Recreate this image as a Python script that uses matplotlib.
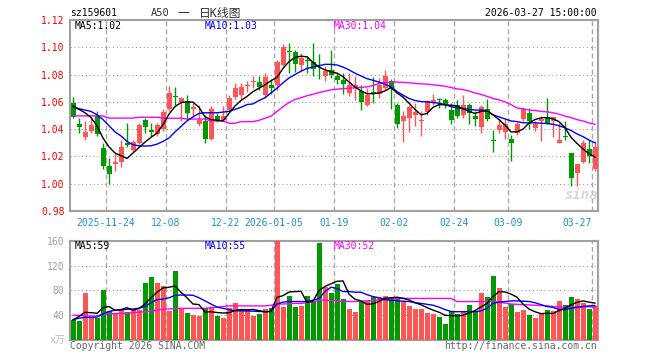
# -*- coding: utf-8 -*-
# Gráfico diario (velas) A50 sz159601 con medias móviles y volumen.

# %%Importación de librerías.
import numpy as np
import matplotlib.pyplot as plt

plt.rcParams['font.family'] = ['DejaVu Sans Mono', 'Noto Sans CJK SC']


# %%Datos.
fechas_idx = [6, 16, 26, 34, 44, 54, 64, 73, 87]
fechas_txt = ['2025-11-24', '12-08', '12-22', '2026-01-05', '01-19',
              '02-02', '02-24', '03-09', '03-27']

apertura = [1.0590, 1.0437, 1.0346, 1.0383, 1.0494, 1.0259, 1.0128, 1.0146, 1.0160, 1.0300,
            1.0250, 1.0300, 1.0467, 1.0395, 1.0363, 1.0400, 1.0551, 1.0637, 1.0600, 1.0605,
            1.0550, 1.0435, 1.0458, 1.0331, 1.0496, 1.0467, 1.0540, 1.0638, 1.0650, 1.0715,
            1.0749, 1.0745, 1.0650, 1.0726, 1.0720, 1.0870, 1.0968, 1.0966, 1.0868, 1.0906,
            1.0893, 1.0812, 1.0788, 1.0837, 1.0787, 1.0763, 1.0666, 1.0702, 1.0681, 1.0580,
            1.0671, 1.0654, 1.0702, 1.0751, 1.0580, 1.0459, 1.0483, 1.0502, 1.0461, 1.0524,
            1.0600, 1.0618, 1.0617, 1.0537, 1.0580, 1.0503, 1.0580, 1.0496, 1.0418, 1.0544,
            1.0316, 1.0394, 1.0379, 1.0331, 1.0370, 1.0471, 1.0520, 1.0410, 1.0459, 1.0488,
            1.0459, 1.0300, 1.0346, 1.0227, 1.0080, 1.0161, 1.0251, 1.0110]
cierre = [1.0490, 1.0415, 1.0380, 1.0432, 1.0363, 1.0131, 1.0072, 1.0158, 1.0269, 1.0285,
          1.0305, 1.0432, 1.0413, 1.0380, 1.0432, 1.0525, 1.0662, 1.0633, 1.0627, 1.0520,
          1.0560, 1.0467, 1.0331, 1.0548, 1.0461, 1.0496, 1.0627, 1.0699, 1.0712, 1.0718,
          1.0753, 1.0708, 1.0780, 1.0705, 1.0890, 1.1000, 1.0964, 1.0878, 1.0923, 1.0902,
          1.0842, 1.0808, 1.0824, 1.0795, 1.0762, 1.0732, 1.0727, 1.0727, 1.0598, 1.0649,
          1.0659, 1.0727, 1.0793, 1.0702, 1.0441, 1.0495, 1.0563, 1.0524, 1.0465, 1.0605,
          1.0617, 1.0615, 1.0581, 1.0467, 1.0496, 1.0580, 1.0520, 1.0476, 1.0564, 1.0472,
          1.0312, 1.0428, 1.0435, 1.0302, 1.0440, 1.0549, 1.0463, 1.0439, 1.0476, 1.0439,
          1.0488, 1.0324, 1.0342, 1.0044, 1.0141, 1.0300, 1.0202, 1.0270]
maximo = [1.0635, 1.0480, 1.0462, 1.0489, 1.0536, 1.0296, 1.0190, 1.0222, 1.0321, 1.0442,
          1.0320, 1.0442, 1.0480, 1.0448, 1.0448, 1.0550, 1.0715, 1.0710, 1.0635, 1.0650,
          1.0590, 1.0580, 1.0500, 1.0570, 1.0520, 1.0570, 1.0650, 1.0735, 1.0735, 1.0755,
          1.0790, 1.0790, 1.0810, 1.0770, 1.0905, 1.1025, 1.1035, 1.0980, 1.0955, 1.0935,
          1.1030, 1.0950, 1.0865, 1.0980, 1.0820, 1.0812, 1.0810, 1.0788, 1.0727, 1.0702,
          1.0783, 1.0776, 1.0837, 1.0768, 1.0593, 1.0532, 1.0580, 1.0593, 1.0532, 1.0617,
          1.0661, 1.0629, 1.0630, 1.0593, 1.0612, 1.0653, 1.0590, 1.0532, 1.0580, 1.0622,
          1.0394, 1.0472, 1.0472, 1.0355, 1.0450, 1.0556, 1.0556, 1.0459, 1.0495, 1.0629,
          1.0488, 1.0446, 1.0459, 1.0227, 1.0141, 1.0324, 1.0317, 1.0310]
minimo = [1.0480, 1.0370, 1.0320, 1.0370, 1.0353, 1.0111, 0.9995, 1.0096, 1.0123, 1.0270,
          1.0235, 1.0290, 1.0370, 1.0350, 1.0350, 1.0390, 1.0533, 1.0576, 1.0460, 1.0470,
          1.0490, 1.0425, 1.0300, 1.0320, 1.0450, 1.0460, 1.0530, 1.0620, 1.0620, 1.0670,
          1.0705, 1.0690, 1.0630, 1.0660, 1.0690, 1.0860, 1.0810, 1.0820, 1.0820, 1.0810,
          1.0790, 1.0765, 1.0755, 1.0775, 1.0730, 1.0660, 1.0645, 1.0617, 1.0537, 1.0568,
          1.0593, 1.0629, 1.0690, 1.0544, 1.0410, 1.0305, 1.0378, 1.0422, 1.0349, 1.0507,
          1.0580, 1.0556, 1.0556, 1.0435, 1.0480, 1.0480, 1.0435, 1.0423, 1.0375, 1.0460,
          1.0229, 1.0370, 1.0330, 1.0169, 1.0360, 1.0460, 1.0398, 1.0390, 1.0312, 1.0435,
          1.0341, 1.0295, 1.0320, 0.9983, 0.9985, 1.0155, 1.0154, 1.0090]

ma5 = [1.0570, 1.0545, 1.0520, 1.0485, 1.0425, 1.0335, 1.0270, 1.0225, 1.0205, 1.0185,
       1.0225, 1.0265, 1.0305, 1.0340, 1.0370, 1.0435, 1.0510, 1.0565, 1.0595, 1.0600,
       1.0598, 1.0560, 1.0490, 1.0470, 1.0465, 1.0460, 1.0515, 1.0570, 1.0610, 1.0640,
       1.0675, 1.0700, 1.0725, 1.0755, 1.0780, 1.0845, 1.0895, 1.0925, 1.0935, 1.0930,
       1.0890, 1.0855, 1.0835, 1.0820, 1.0810, 1.0785, 1.0745, 1.0710, 1.0680, 1.0660,
       1.0660, 1.0665, 1.0680, 1.0705, 1.0665, 1.0635, 1.0590, 1.0545, 1.0505, 1.0515,
       1.0560, 1.0580, 1.0578, 1.0575, 1.0570, 1.0550, 1.0530, 1.0515, 1.0530, 1.0535,
       1.0505, 1.0470, 1.0430, 1.0380, 1.0380, 1.0400, 1.0445, 1.0470, 1.0483, 1.0485,
       1.0475, 1.0455, 1.0410, 1.0340, 1.0295, 1.0255, 1.0220, 1.0195]
ma10 = [1.0565, 1.0550, 1.0540, 1.0530, 1.0505, 1.0470, 1.0425, 1.0380, 1.0350, 1.0310,
        1.0285, 1.0278, 1.0276, 1.0278, 1.0290, 1.0310, 1.0335, 1.0380, 1.0420, 1.0460,
        1.0490, 1.0515, 1.0520, 1.0520, 1.0520, 1.0525, 1.0530, 1.0545, 1.0560, 1.0580,
        1.0585, 1.0610, 1.0630, 1.0665, 1.0700, 1.0740, 1.0775, 1.0800, 1.0825, 1.0845,
        1.0855, 1.0865, 1.0875, 1.0875, 1.0870, 1.0855, 1.0835, 1.0810, 1.0790, 1.0770,
        1.0758, 1.0745, 1.0730, 1.0710, 1.0675, 1.0650, 1.0625, 1.0610, 1.0602, 1.0600,
        1.0595, 1.0590, 1.0580, 1.0565, 1.0555, 1.0550, 1.0545, 1.0540, 1.0540, 1.0535,
        1.0505, 1.0490, 1.0475, 1.0460, 1.0455, 1.0447, 1.0446, 1.0446, 1.0444, 1.0441,
        1.0436, 1.0425, 1.0410, 1.0390, 1.0365, 1.0345, 1.0320, 1.0300]
ma30 = [1.0497, 1.0497, 1.0497, 1.0497, 1.0497, 1.0497, 1.0481, 1.0481, 1.0481, 1.0481,
        1.0481, 1.0487, 1.0487, 1.0487, 1.0487, 1.0480, 1.0480, 1.0480, 1.0480, 1.0474,
        1.0474, 1.0474, 1.0474, 1.0460, 1.0460, 1.0460, 1.0443, 1.0443, 1.0455, 1.0455,
        1.0455, 1.0465, 1.0480, 1.0495, 1.0530, 1.0565, 1.0595, 1.0618, 1.0630, 1.0645,
        1.0656, 1.0668, 1.0678, 1.0688, 1.0693, 1.0697, 1.0700, 1.0703, 1.0706, 1.0710,
        1.0720, 1.0735, 1.0740, 1.0745, 1.0745, 1.0743, 1.0740, 1.0735, 1.0732, 1.0730,
        1.0725, 1.0720, 1.0715, 1.0705, 1.0695, 1.0690, 1.0680, 1.0665, 1.0655, 1.0640,
        1.0625, 1.0615, 1.0600, 1.0580, 1.0555, 1.0550, 1.0540, 1.0537, 1.0530, 1.0527,
        1.0520, 1.0510, 1.0495, 1.0485, 1.0470, 1.0460, 1.0445, 1.0435]

volumen = [33, 31, 76, 36.5, 36, 80.5, 46, 43, 48, 45.6,
           48, 48, 92, 101.5, 92, 87, 46, 111, 50, 44,
           40, 39, 51, 52.6, 39, 36, 51, 60, 48, 48,
           39, 42, 50, 52, 160, 53.7, 71, 53, 55, 71,
           63, 157, 86, 76, 91, 66, 50, 45.6, 63, 63,
           70, 69, 71.4, 67, 67, 62, 55, 50, 50, 44,
           42, 37.6, 25.8, 47, 42, 47, 56, 45.6, 76, 70,
           103.6, 84, 53.7, 58, 45.6, 48, 40, 36, 43, 48,
           46.7, 63, 56, 70, 66, 60, 50, 55]
vol_ma5 = [32, 38, 44.6, 44, 43, 52, 54, 48, 49, 52,
           48, 51, 58, 68, 77, 84, 85, 87, 77, 68,
           58, 57, 45, 45.5, 44.3, 43.5, 43.9, 47.7, 49, 48.6,
           49.2, 47.4, 45.4, 46.2, 68.6, 71.5, 77.3, 78, 78.5, 60.7,
           62.6, 79.8, 86.4, 90.6, 94.6, 95.2, 73.8, 65.7, 63.1, 57.5,
           58.3, 62.1, 67.3, 68.1, 68.9, 67.3, 64.5, 60.2, 56.8, 52.2,
           48.2, 44.7, 39.9, 39.3, 38.9, 39.9, 43.5, 47.5, 53.3, 58.9,
           70.2, 77.8, 77.5, 73.9, 69, 57.9, 49.9, 45.5, 42.5, 43,
           42.7, 47.3, 51.3, 56.7, 60.7, 63, 61, 59.5]
vol_ma10 = [33, 35, 36.5, 36.5, 37, 42, 46, 48, 48.5, 49.5,
            50, 51, 54, 60, 65, 66, 68, 72, 72.5, 72.5,
            72, 68, 63, 58, 53, 51, 49, 47, 47, 46.7,
            46.5, 46, 45.6, 46, 58, 61, 62, 62, 62, 62,
            64, 67, 78, 85, 83, 78, 78, 77, 77, 73,
            70, 68, 65, 64, 63, 62.5, 62, 60, 59, 57.5,
            56, 53, 49, 46, 45.6, 45.6, 45.6, 45.6, 47, 51,
            59, 61, 62, 63, 63, 62.5, 62, 60, 57, 54,
            52.6, 49, 49, 51, 52.6, 54, 55, 55.5]
vol_ma30 = [40, 39.5, 39, 38.7, 38.7, 41, 42, 42.5, 43, 43,
            44, 45, 45.6, 47, 48.3, 49.5, 50, 51, 51, 51,
            51, 51, 51, 52, 53, 54, 55, 55, 55, 55,
            55, 55, 55, 56, 58, 58, 58.5, 59, 59, 60,
            61.5, 64, 64.4, 63.5, 63, 62.5, 62, 62, 62.5, 63,
            64, 64.4, 65.5, 66.5, 67, 67, 67, 67, 67, 67,
            67, 67, 67, 67, 62, 62, 62, 62, 62, 62,
            62, 61, 59.5, 58, 57.5, 57, 56.5, 56, 55.5, 55,
            54, 53, 52.6, 52.6, 53, 53, 53.5, 52.5]


# %%Constantes de estilo.
ROJO = '#ff5555'
VERDE = '#009a00'
GRIS = '#a0a0a0'
AZUL_FECHA = '#1e8fe0'
W, H = 660, 360


# %%Figura y ejes.
fig = plt.figure(figsize=(W/100, H/100), dpi=100)
ax1 = fig.add_axes([70/W, 1 - 211/H, 528/W, 191/H])
ax2 = fig.add_axes([70/W, 1 - 340/H, 528/W, 99.3/H])

o = np.array(apertura)
c = np.array(cierre)
x = np.arange(len(o))
colores = np.where(c >= o, ROJO, VERDE)
xg = np.array(fechas_idx) - 0.5

# Velas.
ax1.vlines(x, minimo, maximo, colors=colores, lw=1, zorder=3)
ax1.bar(x, np.maximum(np.abs(c - o), 0.0007), bottom=np.minimum(o, c),
        width=5/6, color=colores, lw=0, zorder=3)
ax1.plot(x, ma30, color='#ff00ff', lw=1, zorder=4)
ax1.plot(x, ma10, color='#0000ff', lw=1, zorder=4)
ax1.plot(x, ma5, color='black', lw=1, zorder=4)

# Volumen.
ax2.bar(x, volumen, width=5/6, color=colores, lw=0, zorder=3)
ax2.plot(x, vol_ma30, color='#ff00ff', lw=1, zorder=4)
ax2.plot(x, vol_ma10, color='#0000ff', lw=1, zorder=4)
ax2.plot(x, vol_ma5, color='black', lw=1, zorder=4)

# Rejillas y formato.
for ax, yt, ylim in [(ax1, [1.00, 1.02, 1.04, 1.06, 1.08, 1.10], (0.98, 1.12)),
                     (ax2, [40, 80, 120], (0, 160))]:
    ax.set_xlim(-0.5, len(o) - 0.5)
    ax.set_ylim(*ylim)
    for v in yt:
        ax.axhline(v, color='#999999', lw=0.75, ls=(0, (1, 2.7)), zorder=1)
    for v in xg:
        ax.axvline(v, color='#aaaaaa', lw=1, ls=(0, (3.6, 2.2)), zorder=1)
    for s in ax.spines.values():
        s.set_color(GRIS)
        s.set_linewidth(1.5)
    ax.tick_params(length=0, labelsize=7)

ax1.set_yticks(np.arange(0.98, 1.121, 0.02))
ax1.set_yticklabels(['%.2f' % v for v in np.arange(0.98, 1.121, 0.02)], color='red')
ax1.set_xticks(xg)
ax1.set_xticklabels(fechas_txt, color=AZUL_FECHA)
ax1.tick_params(axis='x', pad=5)
ax1.get_xticklabels()[-1].set_ha('right')
ax1.tick_params(axis='y', pad=4)

ax2.set_yticks([40, 80, 120, 160])
ax2.set_yticklabels(['40', '80', '120', '160'], color=GRIS)
ax2.set_xticks([])
ax2.tick_params(axis='y', pad=4)

# Leyendas de medias móviles.
ax1.text(5/528, 0.969, 'MA5:1.02', transform=ax1.transAxes, fontsize=7, va='center')
ax1.text(135/528, 0.969, 'MA10:1.03', transform=ax1.transAxes, fontsize=7,
         va='center', color='#0000ff')
ax1.text(264/528, 0.969, 'MA30:1.04', transform=ax1.transAxes, fontsize=7,
         va='center', color='#ff00ff')
ax2.text(5/528, 0.947, 'MA5:59', transform=ax2.transAxes, fontsize=7, va='center')
ax2.text(135/528, 0.947, 'MA10:55', transform=ax2.transAxes, fontsize=7,
         va='center', color='#0000ff')
ax2.text(264/528, 0.947, 'MA30:52', transform=ax2.transAxes, fontsize=7,
         va='center', color='#ff00ff')

# Marca de agua.
ax1.text(581/W, 1 - 195/H, 'sina', transform=fig.transFigure, fontsize=10,
         fontweight='bold', style='italic', color='#d8d8d8', ha='center',
         va='center', zorder=2)

# Textos de cabecera y pie.
fig.text(70/W, 1 - 13/H, 'sz159601', fontsize=7, va='center')
fig.text(151/W, 1 - 13/H, 'A50', fontsize=7.5, va='center', color='#333333')
fig.text(178/W, 1 - 13/H, '一', fontsize=8.5, va='center', color='#333333')
fig.text(199/W, 1 - 13/H, '日K线图', fontsize=8.5, va='center', color='#333333')
fig.text(597/W, 1 - 13/H, '2026-03-27 15:00:00', fontsize=7, va='center', ha='right')
fig.text(65/W, 1 - 340/H, 'x万', fontsize=7, va='center', ha='right', color='#bbbbbb')
fig.text(70/W, 1 - 346/H, 'Copyright 2026 SINA.COM', fontsize=7, va='center',
         color='#666666')
fig.text(597/W, 1 - 346/H, 'http://finance.sina.com.cn', fontsize=7, va='center',
         ha='right', color='#666666')

fig.savefig('out.png', dpi=100)
